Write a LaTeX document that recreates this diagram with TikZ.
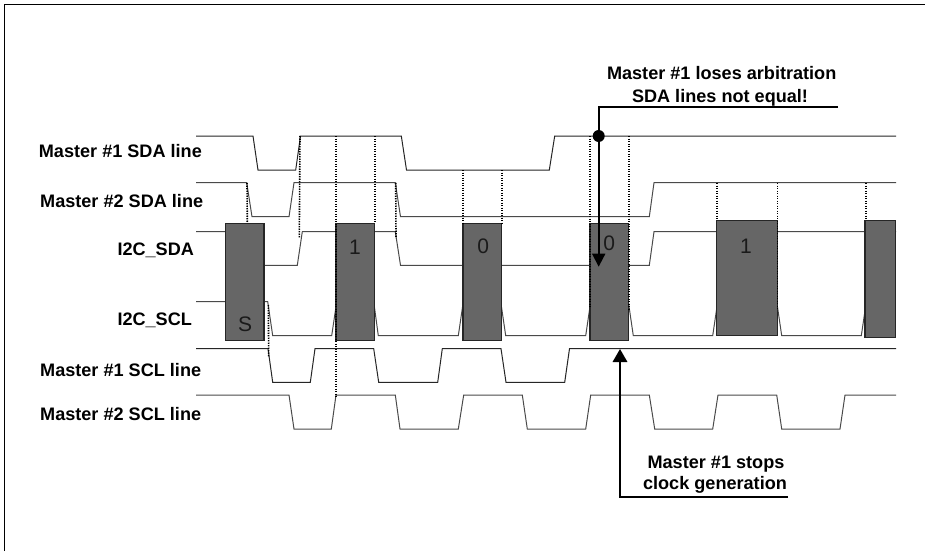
\documentclass[tikz,border=0pt]{standalone}
\usepackage{fontspec}
\setmainfont{Liberation Sans}
\usetikzlibrary{arrows.meta}
\definecolor{boxgray}{HTML}{666666}
\definecolor{sigdark}{HTML}{262626}
\definecolor{siggray}{HTML}{4A4A4A}
\definecolor{digit}{HTML}{1A1A1A}
\tikzset{
  frameline/.style={line width=1pt,black},
  sigA/.style={line width=1pt,sigdark,line join=miter},
  sigB/.style={line width=1pt,siggray,line join=miter},
  databox/.style={line width=1.2pt,draw=sigdark,fill=boxgray},
  guide/.style={line width=1.6pt,black,dash pattern=on 1.4pt off 1.1pt},
  callout/.style={line width=1.8pt,black,line join=miter},
  headline/.style={font=\fontsize{18.1}{20}\selectfont\bfseries,inner sep=0pt,anchor=base west,text=black},
  notetext/.style={font=\fontsize{18.1}{20}\selectfont\bfseries,inner sep=0pt,anchor=base,text=black},
  bitlabel/.style={font=\fontsize{21}{22}\selectfont,inner sep=0pt,text=digit},
}
\begin{document}
\begin{tikzpicture}[x=1pt,y=-1pt]
\useasboundingbox (0,0) rectangle (925,551);
\fill[white] (0,0) rectangle (925,551);
% frame
\draw[frameline] (4.5,551) -- (4.5,5) -- (925,5);
% signals
\draw[sigA] (196,136) -- (253,136) -- (258,170) -- (295.7,170) -- (300.5,136) -- (401.3,136) -- (406.5,170) -- (549.3,170) -- (554.7,136) -- (896,136);
\draw[sigB] (196,182.7) -- (246.7,182.7) -- (252,216.7) -- (289,216.7) -- (294,182.7) -- (395.3,182.7) -- (400.5,216.7) -- (649.3,216.7) -- (654,182.7) -- (896,182.7);
\draw[sigB] (196,231.7) -- (240,231.7) (264,265.3) -- (297.3,265.3) -- (302.3,231.7) -- (395.3,231.7) -- (400.5,265.3) -- (649.3,265.3) -- (654,231.7) -- (896,231.7);
\draw[sigB] (196,301.7) -- (267.7,301.7) -- (272.7,335.7) -- (331.7,335.7) -- (336.7,301.7) -- (373.7,301.7) -- (378.3,335.7) -- (458.3,335.7) -- (463.3,301.7) -- (500.7,301.7) -- (505.7,335.7) -- (585.7,335.7) -- (590.7,301.7) -- (628.3,301.7) -- (633.3,335.7) -- (712.7,335.7) -- (717.7,301.7) -- (776.7,301.7) -- (781.7,335.7) -- (861.3,335.7) -- (866.3,301.7) -- (890,301.7);
\draw[sigA] (196,348.7) -- (268,348.7) -- (272.7,382.3) -- (310.3,382.3) -- (315,348.7) -- (373.7,348.7) -- (378.7,382.3) -- (437.7,382.3) -- (442.3,348.7) -- (501,348.7) -- (506,382.3) -- (564.7,382.3) -- (569.5,348.7) -- (896,348.7);
\draw[sigB] (196,395) -- (289,395) -- (294,429) -- (331.3,429) -- (336,395) -- (395.3,395) -- (400,429) -- (458.3,429) -- (463.7,395) -- (522.3,395) -- (527.3,429) -- (585.7,429) -- (590.7,395) -- (649.3,395) -- (654.7,429) -- (712.7,429) -- (718,395) -- (776.7,395) -- (781.7,429) -- (840,429) -- (845,395) -- (896,395);
% data boxes
\draw[databox] (225.7,223.3) rectangle (264,340.3);
\draw[databox] (336,223.3) rectangle (374.7,340.3);
\draw[databox] (463,223.3) rectangle (501.7,340.3);
\draw[databox] (590,223.3) rectangle (628.7,340.3);
\draw[databox] (716.7,220.7) rectangle (777.3,335.7);
\draw[databox] (865,220.7) rectangle (895.7,337.7);
% dotted guides
\draw[guide] (247,183) -- (247.3,223);
\draw[guide] (300,136) -- (299.3,238);
\draw[guide] (336,136) -- (336,396.7);
\draw[guide] (374.7,136) -- (374.7,223);
\draw[guide] (395.7,183) -- (396,238);
\draw[guide] (268.3,305) -- (268.7,356.7);
\draw[guide] (463,170) -- (463,223);
\draw[guide] (501.7,170) -- (501.7,223);
\draw[guide] (590,136) -- (590,308);
\draw[guide] (628.7,136) -- (628.7,310);
\draw[guide] (716.7,183) -- (716.7,220);
\draw[guide] (777.3,183) -- (777.3,310);
\draw[guide] (865.7,183) -- (865.7,220);
% bit labels
\node[bitlabel] (bitS) at (245,324.3) {S};
\node[bitlabel] (bitA) at (355,247.7) {1};
\node[bitlabel] (bitB) at (483.3,246) {0};
\node[bitlabel] (bitC) at (609.3,243.3) {0};
\node[bitlabel] (bitD) at (746,246) {1};
% signal names
\node[headline] (nameA) at (38.7,157.7) {Master \#1 SDA line};
\node[headline] (nameB) at (40,207.7) {Master \#2 SDA line};
\node[headline] (nameC) at (117.3,255) {I2C\_SDA};
\node[headline] (nameD) at (117.3,325.7) {I2C\_SCL};
\node[headline] (nameE) at (40,376) {Master \#1 SCL line};
\node[headline] (nameF) at (40,420) {Master \#2 SCL line};
% callouts
\node[notetext] (noteA) at (721.7,79) {Master \#1 loses arbitration};
\node[notetext] (noteB) at (720,102.7) {SDA lines not equal!};
\node[notetext] (noteC) at (716,468.3) {Master \#1 stops};
\node[notetext] (noteD) at (715,489.3) {clock generation};
\coordinate (endA) at (838,106.7);
\coordinate (kneeA) at (598.7,106.7);
\coordinate (tipA) at (598.7,266.7);
\coordinate (dotA) at (598.7,136);
\coordinate (endB) at (788,496.7);
\coordinate (kneeB) at (620,496.7);
\coordinate (tipB) at (620,349);
\draw[callout,-{Triangle[length=13pt,width=13pt]}] (endA) -- (kneeA) -- (tipA);
\fill[black] (dotA) circle (6);
\draw[callout,-{Triangle[length=13pt,width=14.5pt]}] (endB) -- (kneeB) -- (tipB);
\end{tikzpicture}
\end{document}
